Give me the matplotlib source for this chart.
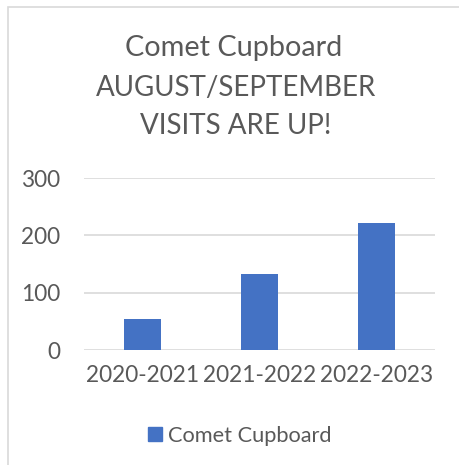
import matplotlib.pyplot as plt
from matplotlib.patches import Rectangle, Patch

seasons = ['2020-2021', '2021-2022', '2022-2023']
visits = [54, 133, 222]
y_ticks = [0, 100, 200, 300]

W, H = 459, 465
plt.rcParams['font.family'] = ['Lato', 'DejaVu Sans']
text_color = '#595959'
bar_color = '#4472C4'

fig = plt.figure(figsize=(W / 100, H / 100), dpi=100)

# chart frame (cropped on the right and bottom)
fig.patches.append(Rectangle((8 / W, -0.1), 1.2, 1 - 7 / H + 0.1,
                             transform=fig.transFigure, fill=False,
                             edgecolor='#D9D9D9', linewidth=1.2))

ax = fig.add_axes([84 / W, 1 - 350 / H, (435 - 84) / W, (350 - 178) / H])
ax.bar(range(len(seasons)), visits, width=0.316, color=bar_color, zorder=3)
ax.set_xlim(-0.5, 2.5)
ax.set_ylim(0, 300)
ax.set_yticks(y_ticks)
ax.set_xticks(range(len(seasons)))
ax.set_xticklabels(seasons)
ax.grid(True, axis='y', color='#D9D9D9', linewidth=1.2, zorder=0)
for s in ax.spines.values():
    s.set_visible(False)
ax.tick_params(length=0, labelsize=16.3, labelcolor=text_color)
ax.tick_params(axis='y', pad=17)
ax.tick_params(axis='x', pad=11)

title_size = 20.8
fig.text(234 / W, 1 - 48 / H, 'Comet Cupboard', ha='center', va='center',
         fontsize=title_size, color=text_color)
fig.text(236 / W, 1 - 88 / H, 'AUGUST/SEPTEMBER', ha='center', va='center',
         fontsize=title_size * 0.96, color=text_color)
fig.text(236 / W, 1 - 126 / H, 'VISITS ARE UP!', ha='center', va='center',
         fontsize=title_size * 0.96, color=text_color)

fig.legend(handles=[Patch(color=bar_color, label='Comet Cupboard')],
           loc='center', bbox_to_anchor=(240 / W, 1 - 436 / H), frameon=False,
           fontsize=15.7, labelcolor=text_color, handlelength=0.6,
           handleheight=0.6, handletextpad=0.3)

fig.savefig('out.png', dpi=100)
